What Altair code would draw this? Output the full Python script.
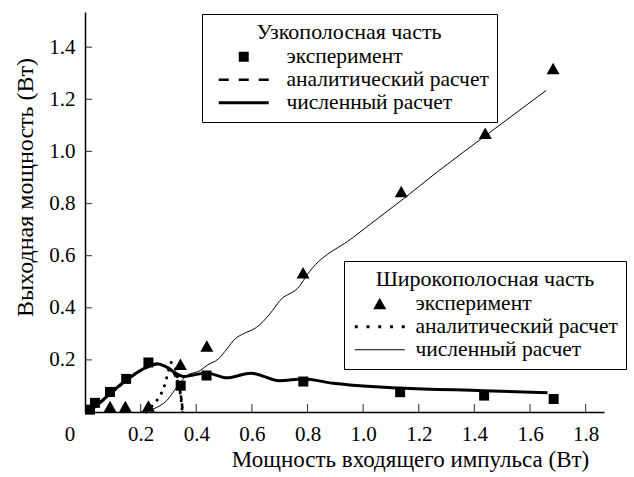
import altair as alt
import pandas as pd

FONT = "Liberation Serif, Times New Roman, DejaVu Serif, serif"

# ---- texts ----
entry_labels = ["эксперимент", "аналитический расчет", "численный расчет"]
narrow_title = "Узкополосная часть"
broad_title = "Широкополосная часть"
x_title = "Мощность входящего импульса (Вт)"
y_title = "Выходная мощность (Вт)"

# ---- ticks ----
x_ticks = [0.2, 0.4, 0.6, 0.8, 1.0, 1.2, 1.4, 1.6, 1.8]
y_ticks = [0.2, 0.4, 0.6, 0.8, 1.0, 1.2, 1.4]
origin_label = "0"

# ---- narrow-band part ----
narrow_exp_x = [0.018, 0.036, 0.09, 0.148, 0.228, 0.344, 0.437, 0.785, 1.133, 1.435, 1.685]
narrow_exp_y = [0.009, 0.035, 0.077, 0.127, 0.19, 0.101, 0.14, 0.117, 0.076, 0.063, 0.050]

narrow_an_x = [0.01, 0.05, 0.1, 0.16, 0.22, 0.26, 0.3, 0.33, 0.345, 0.352]
narrow_an_y = [0.0, 0.032, 0.078, 0.13, 0.17, 0.183, 0.168, 0.127, 0.06, 0.0]

narrow_num_x = [0.01, 0.042, 0.102, 0.162, 0.222, 0.258, 0.294, 0.33, 0.354, 0.39, 0.437,
                0.51, 0.597, 0.699, 0.786, 0.893, 1.133, 1.433, 1.663]
narrow_num_y = [0.0, 0.025, 0.082, 0.133, 0.172, 0.185, 0.172, 0.146, 0.136, 0.142, 0.150,
                0.131, 0.149, 0.120, 0.127, 0.110, 0.092, 0.082, 0.074]

# ---- broad-band part ----
broad_exp_x = [0.09, 0.145, 0.228, 0.343, 0.438, 0.784, 1.137, 1.439, 1.683]
broad_exp_y = [0.02, 0.02, 0.022, 0.182, 0.252, 0.533, 0.845, 1.069, 1.317]

broad_an_x = [0.22, 0.243, 0.262, 0.276, 0.288, 0.298, 0.31, 0.322, 0.335, 0.345, 0.35]
broad_an_y = [0.0, 0.025, 0.05, 0.075, 0.108, 0.15, 0.19, 0.175, 0.12, 0.05, 0.0]

broad_num_x = [0.198, 0.246, 0.294, 0.33, 0.366, 0.414, 0.44, 0.48, 0.51, 0.54, 0.569, 0.617,
               0.665, 0.701, 0.773, 0.797, 0.965, 1.145, 1.265, 1.457, 1.658]
broad_num_y = [0.0, 0.012, 0.044, 0.095, 0.14, 0.159, 0.18, 0.204, 0.242, 0.281, 0.300, 0.325,
               0.377, 0.428, 0.485, 0.524, 0.671, 0.818, 0.920, 1.074, 1.234]

# ---- symbol paths (unit space, scaled by sqrt(size)/2 = 10 px) ----
SQUARE = "M-0.5,-0.5H0.5V0.5H-0.5Z"
TRIANGLE = "M0,-0.6L0.65,0.55H-0.65Z"


def bar(a, b, h):
    return f"M{a:.2f},{-h:.2f}H{b:.2f}V{h:.2f}H{a:.2f}Z"


DASHED = " ".join(bar(a, a + 1.0, 0.13) for a in [-2.5, -0.5, 1.5])
SOLID_THICK = bar(-2.5, 2.5, 0.15)
SOLID_THIN = bar(-2.5, 2.5, 0.05)
DOTTED = " ".join(bar(c - 0.15, c + 0.15, 0.15) for c in [-2.35, -1.175, 0.0, 1.175, 2.35])

XS = alt.Scale(domain=[0, 1.866], nice=False, zero=False)
YS = alt.Scale(domain=[0, 1.535], nice=False, zero=False)

x_axis = alt.Axis(
    values=x_ticks,
    format=".1f",
    labelFlush=False,
    tickSize=0,
    labelPadding=11,
    grid=False,
    domainColor="black",
    domainWidth=1.5,
    labelFont=FONT,
    labelFontSize=21,
    labelColor="black",
    title=x_title,
    titleFont=FONT,
    titleFontSize=23,
    titleFontWeight="normal",
    titleColor="black",
    titleX=325,
    titleY=47,
    titleBaseline="middle",
)
y_axis = alt.Axis(
    values=y_ticks,
    format=".1f",
    tickSize=0,
    labelPadding=10,
    grid=False,
    domainColor="black",
    domainWidth=1.5,
    labelFont=FONT,
    labelFontSize=21,
    labelColor="black",
    labelBaseline="middle",
    title=y_title,
    titleFont=FONT,
    titleFontSize=24,
    titleFontWeight="normal",
    titleColor="black",
    titleX=-60,
    titleY=175,
    titleBaseline="middle",
)


def X(field="x"):
    return alt.X(f"{field}:Q", scale=XS, axis=x_axis)


def Y(field="y"):
    return alt.Y(f"{field}:Q", scale=YS, axis=y_axis)


def legend(title, lx, ly, soff, loff):
    return alt.Legend(
        title=title,
        orient="none",
        legendX=lx,
        legendY=ly,
        padding=8,
        strokeColor="black",
        titleAnchor="middle",
        titleFont=FONT,
        titleFontSize=22,
        titleFontWeight="normal",
        titleColor="black",
        titlePadding=2,
        titleLimit=400,
        labelFont=FONT,
        labelFontSize=21.5,
        labelColor="black",
        labelLimit=400,
        symbolSize=400,
        symbolStrokeWidth=0,
        symbolFillColor="black",
        symbolStrokeColor="black",
        symbolOffset=soff,
        labelOffset=loff,
        rowPadding=0,
    )


n_exp = pd.DataFrame({"x": narrow_exp_x, "y": narrow_exp_y, "k": entry_labels[0]})
n_an = pd.DataFrame({"x": narrow_an_x, "y": narrow_an_y})
n_num = pd.DataFrame({"x": narrow_num_x, "y": narrow_num_y})
b_exp = pd.DataFrame({"x": broad_exp_x, "y": broad_exp_y, "k": entry_labels[0]})
b_an = pd.DataFrame({"x": broad_an_x, "y": broad_an_y})
b_num = pd.DataFrame({"x": broad_num_x, "y": broad_num_y})

n_an_line = alt.Chart(n_an).mark_line(
    color="black", strokeWidth=2.6, strokeDash=[5, 3], interpolate="monotone"
).encode(x=X(), y=Y())
n_num_line = alt.Chart(n_num).mark_line(
    color="black", strokeWidth=3, interpolate="monotone"
).encode(x=X(), y=Y())
n_pts = alt.Chart(n_exp).mark_point(
    filled=True, fill="black", strokeWidth=0, size=400, opacity=1
).encode(
    x=X(), y=Y(),
    shape=alt.Shape(
        "k:N",
        scale=alt.Scale(domain=entry_labels, range=[SQUARE, DASHED, SOLID_THICK]),
        legend=legend(narrow_title, 117, 2, 23, 32),
    ),
)

b_an_line = alt.Chart(b_an).mark_line(
    color="black", strokeWidth=3, strokeDash=[0.1, 8], strokeCap="round", interpolate="monotone"
).encode(x=X(), y=Y())
b_num_line = alt.Chart(b_num).mark_line(
    color="black", strokeWidth=1, interpolate="monotone"
).encode(x=X(), y=Y())
b_pts = alt.Chart(b_exp).mark_point(
    filled=True, fill="black", strokeWidth=0, size=400, opacity=1
).encode(
    x=X(), y=Y(),
    shape=alt.Shape(
        "k:N",
        scale=alt.Scale(domain=entry_labels, range=[TRIANGLE, DOTTED, SOLID_THIN]),
        legend=legend(broad_title, 259, 249, 17, 25),
    ),
)

xt = alt.Chart(pd.DataFrame({"x": x_ticks})).mark_tick(
    orient="vertical", size=8, thickness=1.2, color="black", yOffset=-4
).encode(x=X(), y=alt.YDatum(0, scale=YS, axis=y_axis))
yt = alt.Chart(pd.DataFrame({"y": y_ticks})).mark_tick(
    orient="horizontal", size=7, thickness=1.2, color="black", xOffset=3.5
).encode(y=Y(), x=alt.XDatum(0, scale=XS, axis=x_axis))
zero = alt.Chart(pd.DataFrame({"x": [0], "y": [0], "t": [origin_label]})).mark_text(
    font=FONT, fontSize=21, color="black", dx=-15, dy=23
).encode(x=X(), y=Y(), text="t:N")

narrow = alt.layer(n_an_line, n_num_line, n_pts)
broad = alt.layer(b_an_line, b_num_line, b_pts)

chart = (
    alt.layer(broad, narrow, xt, yt, zero)
    .resolve_scale(shape="independent")
    .properties(
        width=519,
        height=400,
        padding={"left": 85, "top": 12, "right": 30, "bottom": 65},
        autosize=alt.AutoSizeParams(type="none"),
        background="white",
    )
    .configure_view(stroke=None)
)

chart.save("out.html", embed_options={"renderer": "svg", "actions": False})
